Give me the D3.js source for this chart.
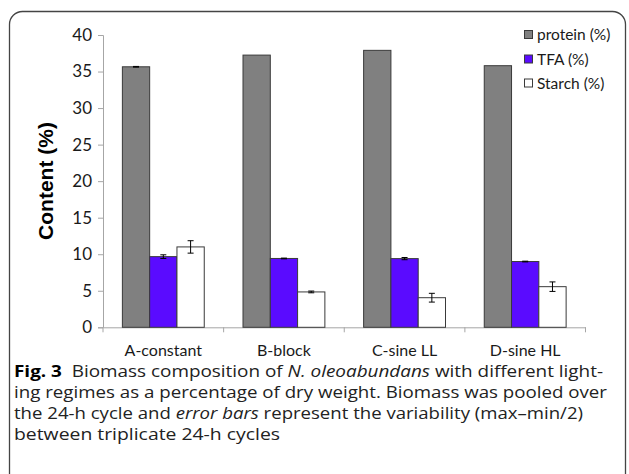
<!DOCTYPE html>
<html>
<head>
<meta charset="utf-8">
<script src="https://cdn.jsdelivr.net/npm/d3@7/dist/d3.min.js"></script>
<style>
  body { margin: 0; background: #fff; }
  svg { display: block; }
</style>
</head>
<body>
<svg id="chart"></svg>
<script>
// data
var categories = ["A-constant", "B-block", "C-sine LL", "D-sine HL"];
var seriesNames = ["protein (%)", "TFA (%)", "Starch (%)"];
var protein = [35.65, 37.25, 37.9, 35.8];
var proteinErr = [0.05, 0, 0, 0];
var tfa = [9.67, 9.42, 9.4, 9.0];
var tfaErr = [0.25, 0.05, 0.15, 0.05];
var starch = [11.0, 4.84, 4.05, 5.56];
var starchErr = [0.85, 0.12, 0.6, 0.65];
var yTicks = [0, 5, 10, 15, 20, 25, 30, 35, 40];
var captionLines = [
    [["Fig. 3", "bold"], ["  Biomass composition of ", ""], ["N. oleoabundans", "italic"], [" with different light-", ""]],
    [["ing regimes as a percentage of dry weight. Biomass was pooled over", ""]],
    [["the 24-h cycle and ", ""], ["error bars", "italic"], [" represent the variability (max\u2013min/2)", ""]],
    [["between triplicate 24-h cycles", ""]]
];

var colors = ["#808080", "#5a0bff", "#ffffff"];

var totalWidth = 629, totalHeight = 474;
var svg = d3.select("#chart")
    .attr("width", totalWidth)
    .attr("height", totalHeight);

// frame
svg.append("rect")
    .attr("x", 9.5).attr("y", 11.5)
    .attr("width", 616).attr("height", 520)
    .attr("rx", 13)
    .attr("fill", "none")
    .attr("stroke", "#444")
    .attr("stroke-width", 1.3);

var plotLeft = 103, plotRight = 585.5, plotTop = 35, plotBottom = 327.3;

var x = d3.scaleBand().domain(categories).range([plotLeft, plotRight]).paddingInner(0).paddingOuter(0);
var x1 = d3.scaleBand().domain(seriesNames).range([0, x.bandwidth()]).paddingInner(0).paddingOuter(0.71);
var y = d3.scaleLinear().domain([0, 40]).range([plotBottom, plotTop]);

var g = svg.append("g");

// y axis
var yAxis = g.append("g")
    .attr("transform", "translate(" + plotLeft + ",0)")
    .call(d3.axisLeft(y).tickValues(yTicks).tickSize(5).tickPadding(6));
yAxis.selectAll("path, line").attr("stroke", "#a6a6a6");
yAxis.selectAll("text")
    .attr("font-family", "Lato, 'DejaVu Sans', sans-serif")
    .attr("font-size", 17)
    .attr("fill", "#1a1a1a");

// x axis
var xAxis = g.append("g")
    .attr("transform", "translate(0," + plotBottom + ")")
    .call(d3.axisBottom(x).tickSize(0).tickPadding(17).tickSizeOuter(0));
xAxis.select(".domain").attr("stroke", "#a6a6a6");
xAxis.selectAll("text")
    .attr("font-family", "Lato, 'DejaVu Sans', sans-serif")
    .attr("font-size", 16)
    .attr("fill", "#1a1a1a");
// boundary ticks between categories
var bounds = categories.map(function (d) { return x(d); }).concat([plotRight]);
g.selectAll(".xtick")
    .data(bounds)
    .enter()
    .append("line")
    .attr("class", "xtick")
    .attr("x1", function (d) { return d; })
    .attr("x2", function (d) { return d; })
    .attr("y1", plotBottom)
    .attr("y2", plotBottom + 5)
    .attr("stroke", "#a6a6a6");

// y title
svg.append("text")
    .attr("transform", "translate(53,181) rotate(-90)")
    .attr("text-anchor", "middle")
    .attr("font-family", "'Liberation Sans', Arial, sans-serif")
    .attr("font-weight", "bold")
    .attr("font-size", 21)
    .attr("fill", "#000")
    .text("Content (%)");

// bars
var series = [
    { name: seriesNames[0], values: protein, errs: proteinErr },
    { name: seriesNames[1], values: tfa, errs: tfaErr },
    { name: seriesNames[2], values: starch, errs: starchErr }
];

series.forEach(function (s, si) {
    var sg = g.append("g");
    sg.selectAll("rect")
        .data(categories)
        .enter()
        .append("rect")
        .attr("x", function (d) { return x(d) + x1(s.name); })
        .attr("y", function (d, i) { return y(s.values[i]); })
        .attr("width", x1.bandwidth())
        .attr("height", function (d, i) { return plotBottom - y(s.values[i]); })
        .attr("fill", colors[si])
        .attr("stroke", "#3a3a3a")
        .attr("stroke-width", 1);

    // error bars
    categories.forEach(function (d, i) {
        if (s.errs[i] <= 0) return;
        var cx = x(d) + x1(s.name) + x1.bandwidth() / 2;
        var y0 = y(s.values[i] - s.errs[i]), y1v = y(s.values[i] + s.errs[i]);
        sg.append("line").attr("x1", cx).attr("x2", cx).attr("y1", y0).attr("y2", y1v)
            .attr("stroke", "#000").attr("stroke-width", 1);
        [y0, y1v].forEach(function (yy) {
            sg.append("line").attr("x1", cx - 3).attr("x2", cx + 3).attr("y1", yy).attr("y2", yy)
                .attr("stroke", "#000").attr("stroke-width", 1);
        });
    });
});

// legend
var legend = svg.append("g").attr("transform", "translate(524,0)");
var legendY = [35, 59.5, 83.5];
seriesNames.forEach(function (name, i) {
    legend.append("rect")
        .attr("x", 0.5).attr("y", legendY[i] - 4.5)
        .attr("width", 8).attr("height", 8)
        .attr("fill", colors[i])
        .attr("stroke", "#3a3a3a");
    legend.append("text")
        .attr("x", 13).attr("y", legendY[i])
        .attr("dy", "0.35em")
        .attr("font-family", "Lato, 'DejaVu Sans', sans-serif")
        .attr("font-size", 15.5)
        .attr("fill", "#1a1a1a")
        .text(name);
});

// caption
var capBase = [377, 398, 419, 440];
var capEnds = [603, 607, 583, 280];
captionLines.forEach(function (line, li) {
    var t = svg.append("text")
        .attr("x", 14).attr("y", capBase[li])
        .attr("font-family", "'Open Sans', 'Noto Sans', sans-serif")
        .attr("font-size", 16.5)
        .attr("fill", "#222")
        .style("white-space", "pre");
    line.forEach(function (part) {
        var ts = t.append("tspan").text(part[0]);
        if (part[1] == "bold") ts.attr("font-weight", "bold").attr("fill", "#000");
        if (part[1] == "italic") ts.attr("font-style", "italic");
    });
    t.attr("textLength", capEnds[li] - 14).attr("lengthAdjust", "spacingAndGlyphs");
});
</script>
</body>
</html>
